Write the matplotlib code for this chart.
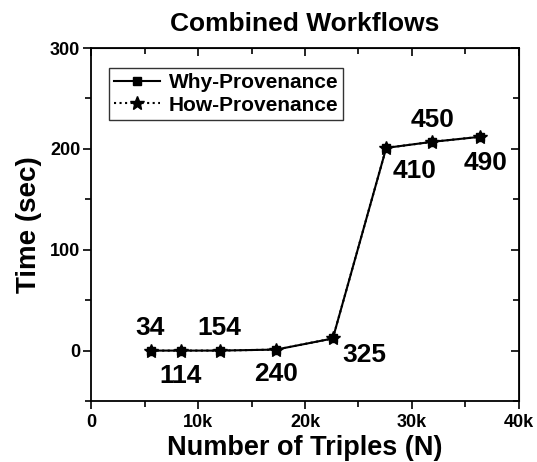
import numpy as np
import matplotlib
matplotlib.use("Agg")
import matplotlib.pyplot as plt
from matplotlib.ticker import MultipleLocator, FuncFormatter

# data
triples = [5600, 8400, 12000, 17300, 22600, 27600, 31900, 36400]
why_time = [0, 0, 0, 1, 12, 201, 207, 212]
how_time = [0, 0, 0, 1, 12, 201, 207, 212]
point_labels = ["34", "114", "154", "240", "325", "410", "450", "490"]
label_offsets = [(-1, 23), (0, -25), (0, 23), (0, -24), (32, -17), (28, -23), (0, 22), (5, -26)]

plt.rcParams['font.family'] = ['Liberation Sans', 'DejaVu Sans']
plt.rcParams['font.weight'] = 'bold'

fig = plt.figure(figsize=(5.37, 4.62), dpi=100)
ax = fig.add_axes([0.17, 0.132, 0.796, 0.764])

ax.plot(triples, why_time, color='k', linestyle='-', marker='s', markersize=6,
        linewidth=1.5, label='Why-Provenance')
ax.plot(triples, how_time, color='k', linestyle=':', marker='*', markersize=10,
        linewidth=1.5, label='How-Provenance')

for x, y, txt, off in zip(triples, how_time, point_labels, label_offsets):
    ax.annotate(txt, xy=(x, y), xytext=off, textcoords='offset pixels',
                ha='center', va='center', fontsize=19, fontweight='bold')

ax.set_xlim(0, 40000)
ax.set_ylim(-50, 300)
ax.xaxis.set_major_locator(MultipleLocator(10000))
ax.xaxis.set_minor_locator(MultipleLocator(5000))
ax.yaxis.set_major_locator(MultipleLocator(100))
ax.yaxis.set_minor_locator(MultipleLocator(50))
ax.xaxis.set_major_formatter(FuncFormatter(lambda v, p: "0" if v == 0 else "%dk" % (v / 1000)))

ax.tick_params(axis='both', which='both', labelsize=13, width=1.2)
ax.tick_params(which='major', length=6)
ax.tick_params(which='minor', length=4)
ax.tick_params(axis='both', which='both', direction='out', top=False, right=False)
ax.tick_params(axis='y', pad=2)
for s in ax.spines.values():
    s.set_linewidth(1.3)

# inward ticks on top and right, as in the original
ax2 = ax.secondary_xaxis('top')
ax2.xaxis.set_major_locator(MultipleLocator(10000))
ax2.xaxis.set_minor_locator(MultipleLocator(5000))
ax2.tick_params(which='both', direction='in', labeltop=False, width=1.2)
ax2.tick_params(which='major', length=6)
ax2.tick_params(which='minor', length=4)
ay2 = ax.secondary_yaxis('right')
ay2.yaxis.set_major_locator(MultipleLocator(100))
ay2.yaxis.set_minor_locator(MultipleLocator(50))
ay2.tick_params(which='both', direction='in', labelright=False, width=1.2)
ay2.tick_params(which='major', length=6)
ay2.tick_params(which='minor', length=4)

ax.set_xlabel('Number of Triples (N)', fontsize=19.5, fontweight='bold', labelpad=3)
ax.set_ylabel('Time (sec)', fontsize=20, fontweight='bold', labelpad=6)
ax.set_title('Combined Workflows', fontsize=19, fontweight='bold', pad=12)

leg = ax.legend(loc='upper left', bbox_to_anchor=(0.042, 0.943), fontsize=15,
                frameon=True, fancybox=False, handlelength=2.2, borderpad=0.25,
                labelspacing=0.15, handletextpad=0.4, borderaxespad=0)
leg.get_frame().set_edgecolor('k')
leg.get_frame().set_linewidth(1.0)

fig.savefig('out.png', dpi=100)
